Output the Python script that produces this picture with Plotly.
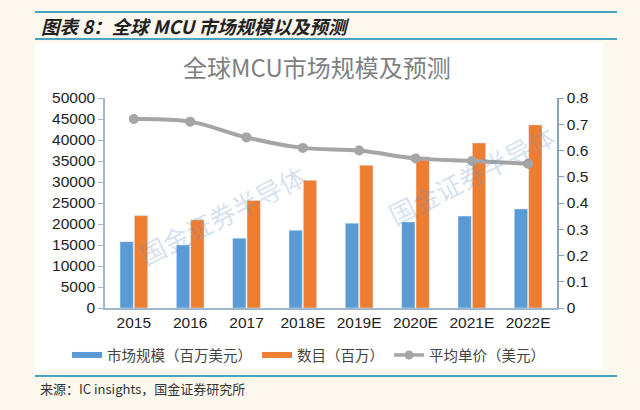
import plotly.graph_objects as go

years = ["2015", "2016", "2017", "2018E", "2019E", "2020E", "2021E", "2022E"]
market_size = [15800, 15000, 16600, 18500, 20200, 20500, 21900, 23600]
units = [22000, 21000, 25600, 30400, 34000, 36000, 39300, 43600]
avg_price = [0.72, 0.71, 0.65, 0.61, 0.60, 0.57, 0.56, 0.55]

cjk = "Noto Sans CJK SC"
axis_col = "#9db7cf"
blue, orange, grey = "#5b9bd5", "#ed7d31", "#a5a5a5"

fig = go.Figure()
fig.add_trace(go.Bar(x=years, y=market_size, name="市场规模（百万美元）",
                     marker_color=blue, showlegend=False))
fig.add_trace(go.Bar(x=years, y=units, name="数目（百万）",
                     marker_color=orange, showlegend=False))
fig.add_trace(go.Scatter(x=years, y=avg_price, name="平均单价（美元）", yaxis="y2",
                         mode="lines+markers", line=dict(color=grey, width=4, shape="spline"),
                         marker=dict(size=10, color=grey), showlegend=False))

# legend entries drawn as wide swatches like the original
fig.add_trace(go.Scatter(x=[None], y=[None], mode="lines", name="市场规模（百万美元）",
                         line=dict(color=blue, width=6)))
fig.add_trace(go.Scatter(x=[None], y=[None], mode="lines", name="数目（百万）",
                         line=dict(color=orange, width=6)))
fig.add_trace(go.Scatter(x=[None], y=[None], mode="lines+markers", name="平均单价（美元）",
                         line=dict(color=grey, width=3.5), marker=dict(size=9, color=grey)))

fig.update_layout(
    width=640, height=410,
    margin=dict(l=105, r=83, t=98, b=102),
    paper_bgcolor="#fcf8ee", plot_bgcolor="white",
    barmode="group", bargap=0.49, bargroupgap=0.07,
    font=dict(family="Liberation Sans, Arial", size=13, color="#222"),
    xaxis=dict(showline=True, linecolor=axis_col, linewidth=1.5, ticks="",
               tickfont=dict(size=15.5), showgrid=False),
    yaxis=dict(range=[0, 50000], dtick=5000, tickformat="d", showline=True, linecolor=axis_col,
               linewidth=1.5, ticks="outside", ticklen=5, tickcolor=axis_col,
               showgrid=False, zeroline=False, tickfont=dict(size=15.5)),
    yaxis2=dict(range=[0, 0.8], dtick=0.1, overlaying="y", side="right",
                showline=True, linecolor="#8aa3b8", linewidth=1.5, ticks="outside",
                ticklen=5, tickcolor="#8aa3b8", showgrid=False, zeroline=False,
                tickfont=dict(size=15.5)),
    legend=dict(orientation="h", x=-0.084, xanchor="left",
                y=-0.224, yanchor="middle", itemwidth=30, tracegroupgap=0,
                font=dict(family=cjk, size=14.5, color="#444"), bgcolor="rgba(0,0,0,0)"),
)

# white card behind the chart and the teal rules
fig.add_shape(type="rect", xref="paper", yref="paper", x0=-0.155, x1=1.102,
              y0=-0.295, y1=1.262, fillcolor="white", line_width=0, layer="below")
for yy in [1.41, 1.281, -0.324]:
    fig.add_shape(type="line", xref="paper", yref="paper", x0=-0.155, x1=1.133,
                  y0=yy, y1=yy, line=dict(color="#4aa3c0", width=2))

fig.add_annotation(text="<b><i>图表 8：全球 MCU 市场规模以及预测</i></b>", xref="paper", yref="paper",
                   x=-0.145, y=1.345, xanchor="left", yanchor="middle", showarrow=False,
                   font=dict(family=cjk, size=18.5, color="#222"))
fig.add_annotation(text="全球MCU市场规模及预测", xref="paper", yref="paper",
                   x=0.469, y=1.15, xanchor="center", yanchor="middle", showarrow=False,
                   font=dict(family=cjk, size=24, color="#7f7f7f"))
fig.add_annotation(text="来源：IC insights，国金证券研究所", xref="paper", yref="paper",
                   x=-0.148, y=-0.381, xanchor="left", yanchor="middle", showarrow=False,
                   font=dict(family=cjk, size=13, color="#333"))

# watermarks
fig.add_annotation(text="国金证券半导体", xref="paper", yref="paper", x=0.259, y=0.443,
                   xanchor="center", yanchor="middle", showarrow=False, textangle=-27,
                   font=dict(family=cjk, size=26, color="rgba(110,150,200,0.3)"))
fig.add_annotation(text="国金证券半导体", xref="paper", yref="paper", x=0.81, y=0.638,
                   xanchor="center", yanchor="middle", showarrow=False, textangle=-27,
                   font=dict(family=cjk, size=26, color="rgba(110,150,200,0.3)"))

fig.write_html("out.html", config={"displayModeBar": False},
               post_script="document.body.style.margin='0';")
